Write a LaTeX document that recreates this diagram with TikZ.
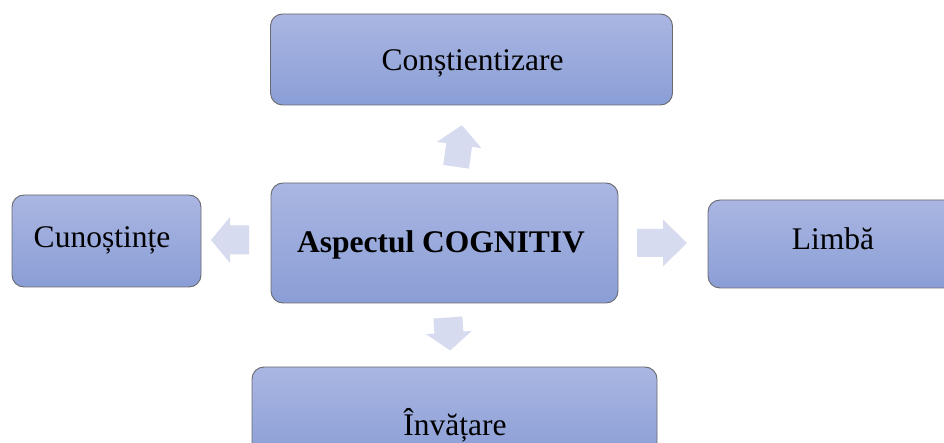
\documentclass[tikz,border=0pt]{standalone}
\usepackage{fontspec}
\setmainfont{Liberation Serif}
\definecolor{boxtop}{RGB}{170,182,226}
\definecolor{boxbot}{RGB}{138,158,214}
\definecolor{boxline}{RGB}{105,105,112}
\definecolor{arrfill}{RGB}{214,219,239}
% block arrow: centre x, centre y, angle, length, shaft width, head width, head length
\newcommand\blockarrow[7]{%
  \begin{scope}[shift={(#1,#2)},rotate=#3]
    \fill[arrowfill]
      (-#4/2,-#5/2) -- (#4/2-#7,-#5/2) -- (#4/2-#7,-#6/2) -- (#4/2,0)
      -- (#4/2-#7,#6/2) -- (#4/2-#7,#5/2) -- (-#4/2,#5/2) -- cycle;
  \end{scope}}
\begin{document}
\begin{tikzpicture}[x=1pt,y=-1pt,
  box/.style={draw=boxline,line width=0.9pt,rounded corners=12pt,
    top color=boxtop,bottom color=boxbot,inner sep=0pt},
  lbl/.style={font=\fontsize{31.5}{36}\selectfont,inner sep=0pt,anchor=base},
  arrowfill/.style={fill=arrfill}]
  \useasboundingbox (0,0) rectangle (944,443);
  \clip (0,0) rectangle (944,443);
  % boxes
  \node[box,minimum width=402pt,minimum height=91pt] (aware) at (471.5,59.5) {};
  \node[box,minimum width=347pt,minimum height=120pt] (core) at (444.5,243) {};
  \node[box,minimum width=189pt,minimum height=92pt] (know) at (106.5,241) {};
  \node[box,minimum width=250pt,minimum height=88pt] (lang) at (833,244) {};
  \node[box,minimum width=405pt,minimum height=92pt] (learn) at (454.5,413) {};
  % labels
  \node[lbl] (aware-t) at (472.5,71) {Conștientizare};
  \node[lbl,font=\fontsize{31.5}{36}\selectfont\bfseries] (core-t) at (441,253) {Aspectul COGNITIV};
  \node[lbl] (know-t) at (102,248) {Cunoștințe};
  \node[lbl] (lang-t) at (833,250) {Limbă};
  \node[lbl] (learn-t) at (455,435) {Învățare};
  % arrows pointing from the core outwards
  \blockarrow{459}{146}{82}{42}{26}{45}{20}
  \blockarrow{230}{240}{180}{38}{29}{46}{19}
  \blockarrow{662}{243}{0}{50}{28}{47}{24}
  \blockarrow{449}{334}{-86}{33}{29}{46}{18}
\end{tikzpicture}
\end{document}
